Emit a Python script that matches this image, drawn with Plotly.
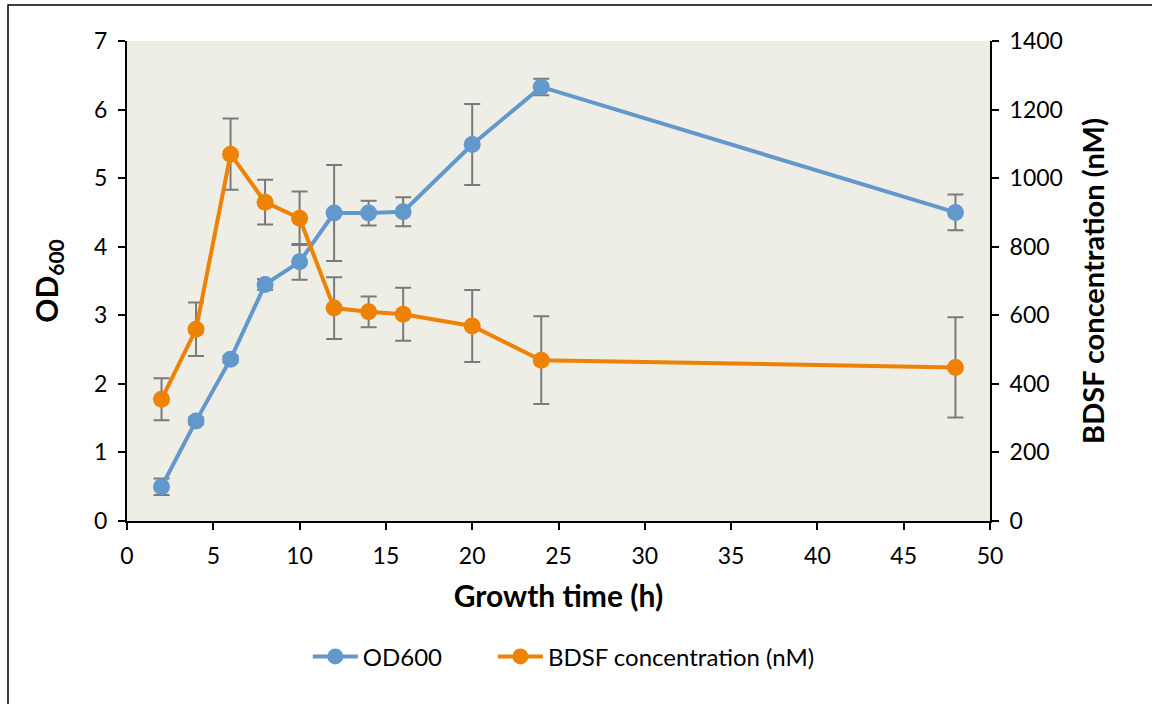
import plotly.graph_objects as go

time_h = [2, 4, 6, 8, 10, 12, 14, 16, 20, 24, 48]
od600 = [0.50, 1.46, 2.36, 3.45, 3.78, 4.49, 4.49, 4.51, 5.49, 6.33, 4.50]
od600_err = [0.12, 0.05, 0.05, 0.08, 0.26, 0.70, 0.18, 0.21, 0.59, 0.12, 0.26]
bdsf_nM = [355, 559, 1070, 930, 883, 621, 610, 603, 569, 469, 448]
bdsf_err = [61, 78, 104, 65, 78, 90, 45, 77, 105, 128, 146]

FONT = "Lato, Calibri, 'Open Sans', sans-serif"
BLUE = "#6398CD"
ORANGE = "#EE8204"
ERR = "#7A7A7A"

fig = go.Figure()
fig.add_trace(go.Scatter(
    x=time_h, y=od600, name="OD600", mode="lines+markers",
    line=dict(color=BLUE, width=4),
    marker=dict(color=BLUE, size=17),
    error_y=dict(type="data", array=od600_err, color=ERR, thickness=2, width=8),
    yaxis="y", legend="legend",
))
fig.add_trace(go.Scatter(
    x=time_h, y=bdsf_nM, name="BDSF concentration (nM)", mode="lines+markers",
    line=dict(color=ORANGE, width=4),
    marker=dict(color=ORANGE, size=17),
    error_y=dict(type="data", array=bdsf_err, color=ERR, thickness=2, width=8),
    yaxis="y2", legend="legend2",
))

axis_common = dict(
    showline=True, linecolor="black", linewidth=2, mirror=False,
    ticks="outside", ticklen=7, tickwidth=2, tickcolor="black",
    showgrid=False, zeroline=False, ticklabelstandoff=6,
    tickfont=dict(family=FONT, size=23, color="black"),
)

legend_common = dict(
    orientation="h", y=-0.283, yanchor="middle", xanchor="left",
    font=dict(family=FONT, size=24, color="black"),
    itemwidth=45, bgcolor="rgba(0,0,0,0)",
)

fig.update_layout(
    width=1152, height=704,
    margin=dict(l=127, r=162, t=41, b=183),
    paper_bgcolor="white",
    plot_bgcolor="#EFEEE6",
    font=dict(family=FONT, color="black"),
    xaxis=dict(
        range=[0, 50], dtick=5, **axis_common,
        title=dict(text="<b>Growth time (h)</b>", font=dict(family=FONT, size=30), standoff=18),
    ),
    yaxis=dict(
        range=[0, 7], dtick=1, **axis_common,
        title=dict(text="<b>OD<sub>600</sub></b>", font=dict(family=FONT, size=30), standoff=27),
    ),
    yaxis2=dict(
        range=[0, 1400], dtick=200, overlaying="y", side="right", **axis_common,
        title=dict(text="<b>BDSF concentration (nM)</b>", font=dict(family=FONT, size=29), standoff=22),
    ),
    showlegend=True,
    legend=dict(x=0.2095, **legend_common),
    legend2=dict(x=0.424, **legend_common),
    shapes=[dict(
        type="rect", xref="paper", yref="paper",
        x0=-0.1379, x1=1.4, y0=-0.6, y1=1.075,
        line=dict(color="black", width=1.5), fillcolor="rgba(0,0,0,0)", layer="below",
    )],
)

fig.write_html("out.html")
